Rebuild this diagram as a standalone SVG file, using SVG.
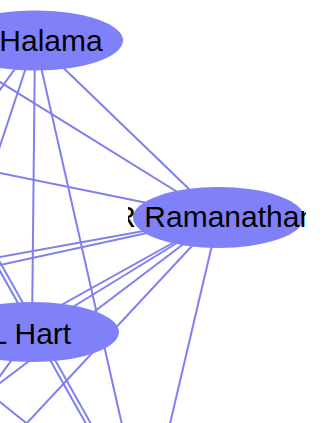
<svg xmlns="http://www.w3.org/2000/svg" width="326" height="423" viewBox="0 0 326 423">
<style>
.e{stroke:#7f7ff0;stroke-width:2;fill:none}
.n{fill:#8080f8;stroke:none}
.t{font-family:"Liberation Sans",Arial,sans-serif;font-size:30px;fill:#000}
</style>
<defs>
<clipPath id="clipR"><rect x="128" y="185" width="178" height="65"/></clipPath>
</defs>
<rect width="326" height="423" fill="#fff"/>
<g id="edges">
<path class="e" d="M35,40.5 L218.5,217.5"/>
<path class="e" d="M35,40.5 L32,332"/>
<path class="e" d="M35,40.5 L130,460"/>
<path class="e" d="M35,40.5 L-20,118"/>
<path class="e" d="M35,40.5 L-10,176"/>
<path class="e" d="M-40,57.2 L218.5,217.5"/>
<path class="e" d="M-40,164.9 L218.5,217.5"/>
<path class="e" d="M-40,264.2 L218.5,217.5"/>
<path class="e" d="M-40,273.7 L218.5,217.5"/>
<path class="e" d="M32,332 L218.5,217.5"/>
<path class="e" d="M-40,413.3 L218.5,217.5"/>
<path class="e" d="M1.8,450 L218.5,217.5"/>
<path class="e" d="M-60,372.4 L218.5,217.5"/>
<path class="e" d="M218.5,217.5 L163.8,450"/>
<path class="e" d="M32,332 L-20,403.5"/>
<path class="e" d="M-10,253.4 L100.8,450"/>
<path class="e" d="M-5,253.4 L105.8,450"/>
<path class="e" d="M-20,386 L40,434"/>
</g>
<g id="node-halama">
<ellipse class="n" cx="35" cy="40.5" rx="88" ry="30"/>
<text class="t" x="-0.7" y="51">Halama</text>
</g>
<g id="node-ramanathan">
<ellipse class="n" cx="218.5" cy="217.5" rx="85.5" ry="30.5"/>
<text class="t" x="114.3" y="227" clip-path="url(#clipR)">R Ramanathan</text>
</g>
<g id="node-hart">
<ellipse class="n" cx="32" cy="332" rx="87" ry="30"/>
<text class="t" x="-9.4" y="344">L Hart</text>
</g>
</svg>
